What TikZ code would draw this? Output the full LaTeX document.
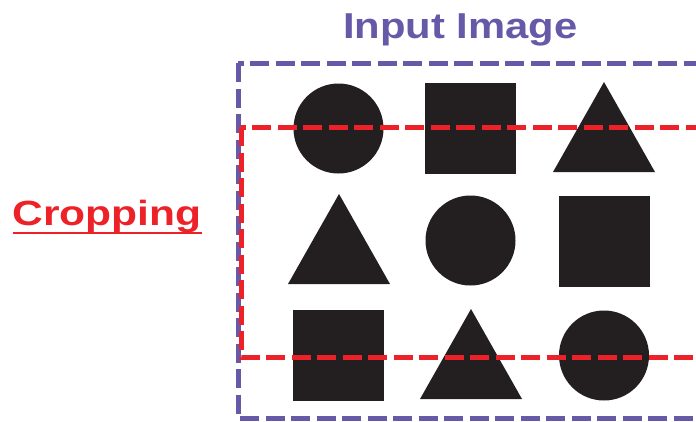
\documentclass[tikz,border=0pt]{standalone}
\usepackage{fontspec}
\setmainfont{Liberation Sans}
\usetikzlibrary{positioning}
\definecolor{purple2}{RGB}{102,89,167}
\definecolor{red2}{RGB}{237,34,40}
\definecolor{ink}{RGB}{35,31,32}
\tikzset{
  inputframe/.style={draw=purple2, line width=5pt, dash pattern=on 19pt off 6.5pt},
  cropframe/.style={draw=red2, line width=5pt, dash pattern=on 19pt off 6.5pt},
  titletext/.style={text=purple2, font=\bfseries\fontsize{36}{40}\selectfont, inner sep=0pt},
  croptext/.style={text=red2, font=\bfseries\fontsize{35}{38}\selectfont, inner sep=0pt},
  disc/.style={circle, fill=ink, minimum size=90pt, inner sep=0pt},
  block/.style={rectangle, fill=ink, minimum size=91pt, inner sep=0pt},
  tri/.style={fill=ink}
}

\begin{document}
\begin{tikzpicture}[x=1pt, y=-1pt]
\clip (0,0) rectangle (696,421);

\node[titletext, anchor=base] (title) at (460.5,38) {\scalebox{1.16}[1]{Input Image}};
\node[croptext, anchor=base west] (crop) at (12.5,225) {\scalebox{1.215}[1]{Cropping}};
\draw[red2, line width=2pt] ([yshift=-8pt]crop.base west) -- ([yshift=-8pt]crop.base east);

% grid of shapes
\node[disc] (c1) at (338.5,128.5) {};
\node[block] (s1) at (470.5,128.5) {};
\coordinate (t1) at (604,127);
\coordinate (t2) at (339,239);
\node[disc] (c2) at (470.5,240.5) {};
\node[block] (s2) at (604.5,241.5) {};
\node[block] (s3) at (338.5,355.5) {};
\coordinate (t3) at (471,354);
\node[disc] (c3) at (604,355.5) {};
\fill[tri] ([shift={(-51,45)}]t1) -- ([shift={(0,-45)}]t1) -- ([shift={(51,45)}]t1) -- cycle;
\fill[tri] ([shift={(-51,45)}]t2) -- ([shift={(0,-45)}]t2) -- ([shift={(51,45)}]t2) -- cycle;
\fill[tri] ([shift={(-51,45)}]t3) -- ([shift={(0,-45)}]t3) -- ([shift={(51,45)}]t3) -- cycle;

% frames
\draw[inputframe] (238,63) rectangle (740,418);
\draw[cropframe] (241,127) rectangle (740,357);
\end{tikzpicture}
\end{document}
